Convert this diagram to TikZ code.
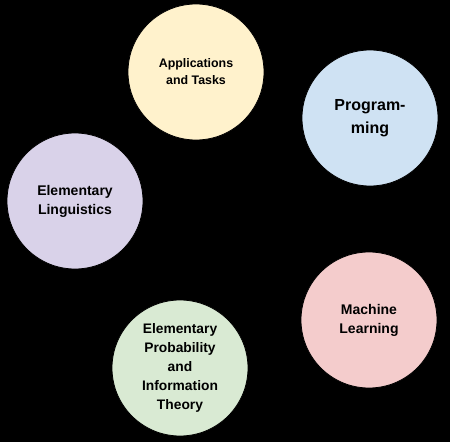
\documentclass[tikz,border=0pt]{standalone}
\usepackage{fontspec}
\setmainfont{Liberation Sans}
\definecolor{cyellow}{HTML}{FFF2CC}
\definecolor{cblue}{HTML}{CFE2F3}
\definecolor{cpurple}{HTML}{D9D2E9}
\definecolor{cred}{HTML}{F4CCCC}
\definecolor{cgreen}{HTML}{D9EAD3}
\tikzset{topic/.style={circle, draw=black, line width=0.8pt, minimum size=136pt, inner sep=0pt, align=center, font=\bfseries}}
\begin{document}
\begin{tikzpicture}[x=1pt,y=-1pt]
\fill[black] (0,0) rectangle (450,442);
\useasboundingbox (0,0) rectangle (450,442);
\node[topic, fill=cyellow, font=\bfseries\fontsize{12.4}{17}\selectfont] (app) at (196,72) {Applications\\and Tasks};
\node[topic, fill=cblue, font=\bfseries\fontsize{16}{23}\selectfont] (prog) at (370,118) {Program-\\ming};
\node[topic, fill=cpurple, font=\bfseries\fontsize{14}{19}\selectfont] (ling) at (75,201) {Elementary\\Linguistics};
\node[topic, fill=cred, font=\bfseries\fontsize{14}{19}\selectfont] (ml) at (369,320) {Machine\\Learning};
\node[topic, fill=cgreen, font=\bfseries\fontsize{13.8}{19}\selectfont] (prob) at (180,368) {Elementary\\Probability\\and\\Information\\Theory};
\end{tikzpicture}
\end{document}
